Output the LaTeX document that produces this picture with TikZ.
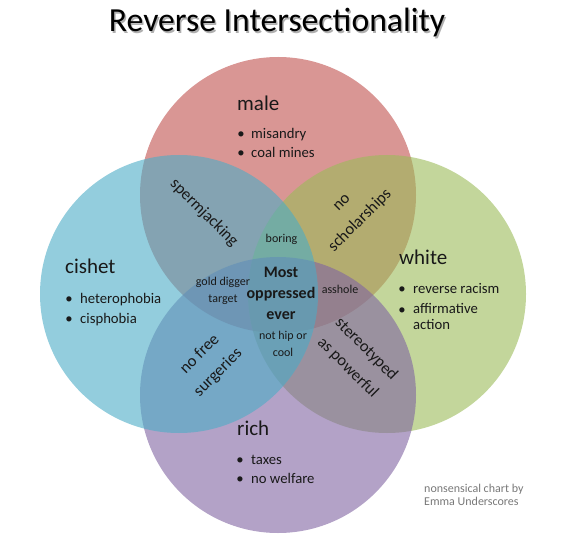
\documentclass[tikz,border=0pt]{standalone}
\usepackage{fontspec}
\setmainfont{Carlito}
\definecolor{cmale}{HTML}{C0504D}
\definecolor{cwhite}{HTML}{9BBB59}
\definecolor{crich}{HTML}{8064A2}
\definecolor{ccishet}{HTML}{4BACC6}
\definecolor{credit}{RGB}{120,120,120}
\definecolor{ink}{RGB}{25,25,25}
\definecolor{shade}{RGB}{175,175,175}
\newcommand{\shadowed}[1]{\rlap{\hspace{1.5pt}\raisebox{-1.5pt}{\textcolor{shade}{#1}}}#1}
\tikzset{
  circ/.style={fill opacity=0.6},
  biglabel/.style={font=\fontsize{21}{25}\selectfont, anchor=base west, inner sep=0, text=ink},
  itemtxt/.style={font=\fontsize{14.7}{18}\selectfont, anchor=base west, inner sep=0, text=ink},
  bul/.style={font=\fontsize{14.7}{18}\selectfont, anchor=base, inner sep=0, text=ink},
  small/.style={font=\fontsize{12}{16.5}\selectfont, align=center, anchor=center, inner sep=0, text=ink},
  core/.style={font=\bfseries\fontsize{16}{21}\selectfont, align=center, anchor=center, inner sep=0, text=ink},
  diag/.style={font=\fontsize{16.5}{26}\selectfont, align=center, anchor=center, inner sep=0, text=ink},
  creditxt/.style={font=\fontsize{12}{14}\selectfont, align=left, anchor=north west, inner sep=0, text=credit}
}
\begin{document}
\begin{tikzpicture}[x=1pt,y=-1pt]
\useasboundingbox (0,0) rectangle (586,537);
% circles
\fill[cmale, circ] (278,195) circle (138pt);
\fill[cwhite, circ] (387,294) circle (139pt);
\fill[crich, circ] (278,395) circle (138pt);
\fill[ccishet, circ] (179,294) circle (139pt);
% title with shadow
\node[font=\fontsize{33.7}{38}\selectfont, anchor=base, inner sep=0, text=black] (title) at (277,32) {\shadowed{Reverse Intersectionality}};
% male
\node[biglabel] (male) at (237,111) {male};
\node[bul] (mb1) at (241,139) {•};
\node[itemtxt] (m1) at (251,139) {misandry};
\node[bul] (mb2) at (241,158) {•};
\node[itemtxt] (m2) at (251,158) {coal mines};
% cishet
\node[biglabel] (cishet) at (65,274) {cishet};
\node[bul] (cb1) at (69,303) {•};
\node[itemtxt] (c1) at (80,303) {heterophobia};
\node[bul] (cb2) at (69,323) {•};
\node[itemtxt] (c2) at (80,323) {cisphobia};
% white
\node[biglabel] (white) at (399,265) {white};
\node[bul] (wb1) at (402,294) {•};
\node[itemtxt] (w1) at (413,294) {reverse racism};
\node[bul] (wb2) at (402,314) {•};
\node[itemtxt, align=left, anchor=north west] (w2) at (413,303.5) {affirmative\\[-2pt]action};
% rich
\node[biglabel] (rich) at (237,435) {rich};
\node[bul] (rb1) at (240,464) {•};
\node[itemtxt] (r1) at (251,464) {taxes};
\node[bul] (rb2) at (240,483) {•};
\node[itemtxt] (r2) at (251,483) {no welfare};
% small intersection labels
\node[small] (boring) at (281.5,239) {boring};
\node[small] (gold) at (223,291) {gold digger\\target};
\node[small] (asshole) at (340,289) {asshole};
\node[small] (hip) at (283,344) {not hip or\\cool};
% core
\node[core] (most) at (281,293) {Most\\oppressed\\ever};
% diagonal labels
\node[diag, rotate=-45] (sperm) at (204,213) {spermjacking};
\node[diag, rotate=45] (schol) at (352,212.5) {no\\scholarships};
\node[diag, rotate=45] (surg) at (209,363.5) {no free\\surgeries};
\node[diag, rotate=-45] (stereo) at (357,358.5) {stereotyped\\as powerful};
% credit
\node[creditxt] (cr) at (424,483.5) {nonsensical chart by\\[-1pt]Emma Underscores};
\end{tikzpicture}
\end{document}
